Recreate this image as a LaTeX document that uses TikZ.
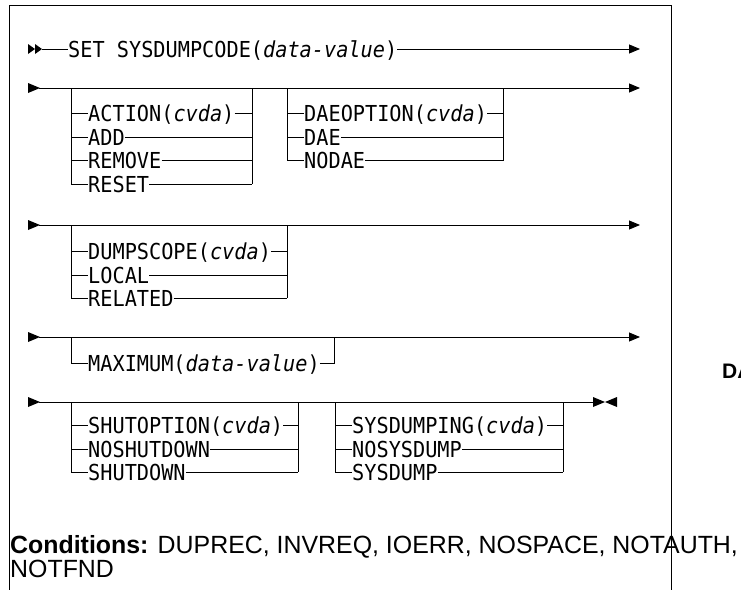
\documentclass[tikz,border=0pt]{standalone}
\usepackage{fontspec}
\setmainfont{Liberation Sans}
\newfontfamily\railfont{DejaVu Sans Mono}[ItalicFont={DejaVu Sans Mono Oblique},FakeStretch=0.92]
\usetikzlibrary{arrows.meta}
\begin{document}
\begin{tikzpicture}[x=1pt,y=-1pt,
  rail/.style={line width=0.85pt, black},
  endarrow/.style={rail, -{Triangle[length=11pt,width=9pt]}},
  kw/.style={font=\railfont\fontsize{22}{26}\selectfont, inner sep=0pt,
             text height=16pt, text depth=0pt, anchor=west},
  cond/.style={font=\fontsize{24.9}{29}\selectfont, inner sep=0pt, anchor=base west},
  frame/.style={line width=0.8pt, black},
  rtri/.pic={\fill (0,-5) -- (12,0) -- (0,5) -- cycle;},
  rtris/.pic={\fill (0,-5) -- (7,0) -- (0,5) -- cycle;},
  ltri/.pic={\fill (0,-5) -- (-12,0) -- (0,5) -- cycle;},
  rtrie/.pic={\fill (0,-5) -- (12,0) -- (0,5) -- cycle;}
]
\useasboundingbox (0,0) rectangle (741,589);

% frame
\coordinate (fbl) at (9,600);
\coordinate (ftl) at (9,5);
\coordinate (ftr) at (671,5);
\coordinate (fbr) at (671,600);
\draw[frame] (fbl) -- (ftl) -- (ftr) -- (fbr);

% ---------- row 1
\pic at (28,49) {rtris};
\pic at (35,49) {rtris};
\coordinate (r1s) at (42,49);
\coordinate (r1e) at (640,49);
\node[kw] (t1) at (68,49) {SET SYSDUMPCODE(\textit{data-value})};
\draw[rail] (r1s) -- (t1.west);
\draw[endarrow] (t1.east) -- (r1e);

% ---------- row 2
\pic at (28,88) {rtri};
\coordinate (r2s) at (39,88);
\coordinate (r2e) at (640,88);
\draw[endarrow] (r2s) -- (r2e);
% group A
\coordinate (AL) at (71,88);
\coordinate (AR) at (252,88);
\node[kw] (a1) at (88,113) {ACTION(\textit{cvda})};
\node[kw] (a2) at (88,137) {ADD};
\node[kw] (a3) at (88,160.5) {REMOVE};
\node[kw] (a4) at (88,184) {RESET};
\draw[rail] (AL) -- (AL |- a4.west);
\draw[rail] (AR) -- (AR |- a4.east);
\foreach \n in {a1,a2,a3,a4}{
  \draw[rail] (AL |- \n.west) -- (\n.west);
  \draw[rail] (\n.east) -- (AR |- \n.east);
}
% group B
\coordinate (BL) at (287,88);
\coordinate (BR) at (503,88);
\node[kw] (b1) at (304,113) {DAEOPTION(\textit{cvda})};
\node[kw] (b2) at (304,137) {DAE};
\node[kw] (b3) at (304,160.5) {NODAE};
\draw[rail] (BL) -- (BL |- b3.west);
\draw[rail] (BR) -- (BR |- b3.east);
\foreach \n in {b1,b2,b3}{
  \draw[rail] (BL |- \n.west) -- (\n.west);
  \draw[rail] (\n.east) -- (BR |- \n.east);
}

% ---------- row 3
\pic at (28,225) {rtri};
\coordinate (r3s) at (39,225);
\coordinate (r3e) at (640,225);
\draw[endarrow] (r3s) -- (r3e);
\coordinate (CL) at (71,225);
\coordinate (CR) at (287,225);
\node[kw] (c1) at (88,251) {DUMPSCOPE(\textit{cvda})};
\node[kw] (c2) at (88,275) {LOCAL};
\node[kw] (c3) at (88,298) {RELATED};
\draw[rail] (CL) -- (CL |- c3.west);
\draw[rail] (CR) -- (CR |- c3.east);
\foreach \n in {c1,c2,c3}{
  \draw[rail] (CL |- \n.west) -- (\n.west);
  \draw[rail] (\n.east) -- (CR |- \n.east);
}

% ---------- row 4
\pic at (28,337) {rtri};
\coordinate (r4s) at (39,337);
\coordinate (r4e) at (640,337);
\draw[endarrow] (r4s) -- (r4e);
\coordinate (DL) at (71,337);
\coordinate (DR) at (334,337);
\node[kw] (d1) at (88,363) {MAXIMUM(\textit{data-value})};
\draw[rail] (DL) -- (DL |- d1.west) -- (d1.west);
\draw[rail] (d1.east) -- (DR |- d1.east) -- (DR);

% ---------- row 5
\pic at (28,402) {rtri};
\coordinate (r5s) at (39,402);
\coordinate (r5e) at (593,402);
\draw[rail] (r5s) -- (r5e);
\pic at (r5e) {rtrie};
\pic at (617,402) {ltri};
% group E
\coordinate (EL) at (71,402);
\coordinate (ER) at (298,402);
\node[kw] (e1) at (88,425) {SHUTOPTION(\textit{cvda})};
\node[kw] (e2) at (88,449) {NOSHUTDOWN};
\node[kw] (e3) at (88,472) {SHUTDOWN};
\draw[rail] (EL) -- (EL |- e3.west);
\draw[rail] (ER) -- (ER |- e3.east);
\foreach \n in {e1,e2,e3}{
  \draw[rail] (EL |- \n.west) -- (\n.west);
  \draw[rail] (\n.east) -- (ER |- \n.east);
}
% group F
\coordinate (FL) at (335,402);
\coordinate (FR) at (563,402);
\node[kw] (f1) at (352,425) {SYSDUMPING(\textit{cvda})};
\node[kw] (f2) at (352,449) {NOSYSDUMP};
\node[kw] (f3) at (352,472) {SYSDUMP};
\draw[rail] (FL) -- (FL |- f3.west);
\draw[rail] (FR) -- (FR |- f3.east);
\foreach \n in {f1,f2,f3}{
  \draw[rail] (FL |- \n.west) -- (\n.west);
  \draw[rail] (\n.east) -- (FR |- \n.east);
}

% ---------- conditions
\node[cond] (cond1) at (10,553) {\textbf{Conditions:} DUPREC, INVREQ, IOERR, NOSPACE, NOTAUTH,};
\node[cond] (cond2) at (10,577) {NOTFND};

% cut-off label at the right edge
\node[font=\bfseries\fontsize{21}{25}\selectfont, inner sep=0pt, anchor=base west] (da) at (722,378) {DA};
\end{tikzpicture}
\end{document}
